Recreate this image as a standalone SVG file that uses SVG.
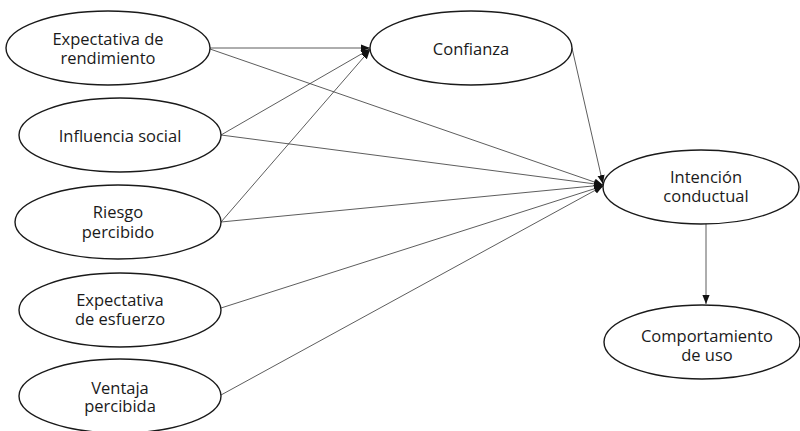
<svg xmlns="http://www.w3.org/2000/svg" width="800" height="431" viewBox="0 0 800 431">
  <style>
    .node ellipse { fill: #ffffff; stroke: #1a1a1a; stroke-width: 1.4; }
    .node text { font-family: "Open Sans", "Noto Sans", "DejaVu Sans", sans-serif; font-size: 16.5px; fill: #1a1a1a; text-anchor: middle; }
    .edges line { stroke: #333333; stroke-width: 0.8; marker-end: url(#arrow); }
  </style>
  <defs>
    <marker id="arrow" viewBox="0 0 10 10" refX="10" refY="5" markerWidth="9" markerHeight="9" markerUnits="userSpaceOnUse" orient="auto">
      <path d="M0,1 L10,5 L0,9 z" fill="#111111"/>
    </marker>
  </defs>
  <rect width="800" height="431" fill="#ffffff"/>

  <g class="edges">
    <!-- into Confianza -->
    <line x1="210" y1="48" x2="370" y2="48"/>
    <line x1="221" y1="135" x2="370" y2="49"/>
    <line x1="221" y1="222" x2="370" y2="50"/>
    <!-- into Intención conductual -->
    <line x1="210" y1="49" x2="603" y2="185"/>
    <line x1="221" y1="135" x2="603" y2="185"/>
    <line x1="221" y1="222" x2="603" y2="185"/>
    <line x1="221" y1="308" x2="603" y2="186"/>
    <line x1="221" y1="395" x2="603" y2="186"/>
    <line x1="572" y1="48" x2="603" y2="184"/>
    <!-- into Comportamiento de uso -->
    <line x1="706" y1="223" x2="706" y2="304"/>
  </g>

  <g id="expectativa-rendimiento" class="node">
    <ellipse cx="108" cy="48" rx="102" ry="37"/>
    <text x="108" y="45">Expectativa de<tspan x="108" dy="19">rendimiento</tspan></text>
  </g>
  <g id="influencia-social" class="node">
    <ellipse cx="120" cy="135" rx="101" ry="37"/>
    <text x="120" y="142">Influencia social</text>
  </g>
  <g id="riesgo-percibido" class="node">
    <ellipse cx="118" cy="222" rx="103" ry="37"/>
    <text x="118" y="218">Riesgo<tspan x="118" dy="20">percibido</tspan></text>
  </g>
  <g id="expectativa-esfuerzo" class="node">
    <ellipse cx="120" cy="310" rx="101" ry="37"/>
    <text x="120" y="306">Expectativa<tspan x="120" dy="19">de esfuerzo</tspan></text>
  </g>
  <g id="ventaja-percibida" class="node">
    <ellipse cx="120" cy="396" rx="101" ry="37"/>
    <text x="120" y="394">Ventaja<tspan x="120" dy="18">percibida</tspan></text>
  </g>
  <g id="confianza" class="node">
    <ellipse cx="471" cy="48" rx="101" ry="37"/>
    <text x="471" y="55">Confianza</text>
  </g>
  <g id="intencion-conductual" class="node">
    <ellipse cx="701" cy="187" rx="98" ry="37"/>
    <text x="706" y="183">Intención<tspan x="706" dy="19">conductual</tspan></text>
  </g>
  <g id="comportamiento-uso" class="node">
    <ellipse cx="702" cy="342" rx="98" ry="37"/>
    <text x="707" y="342">Comportamiento<tspan x="707" dy="19">de uso</tspan></text>
  </g>
</svg>
